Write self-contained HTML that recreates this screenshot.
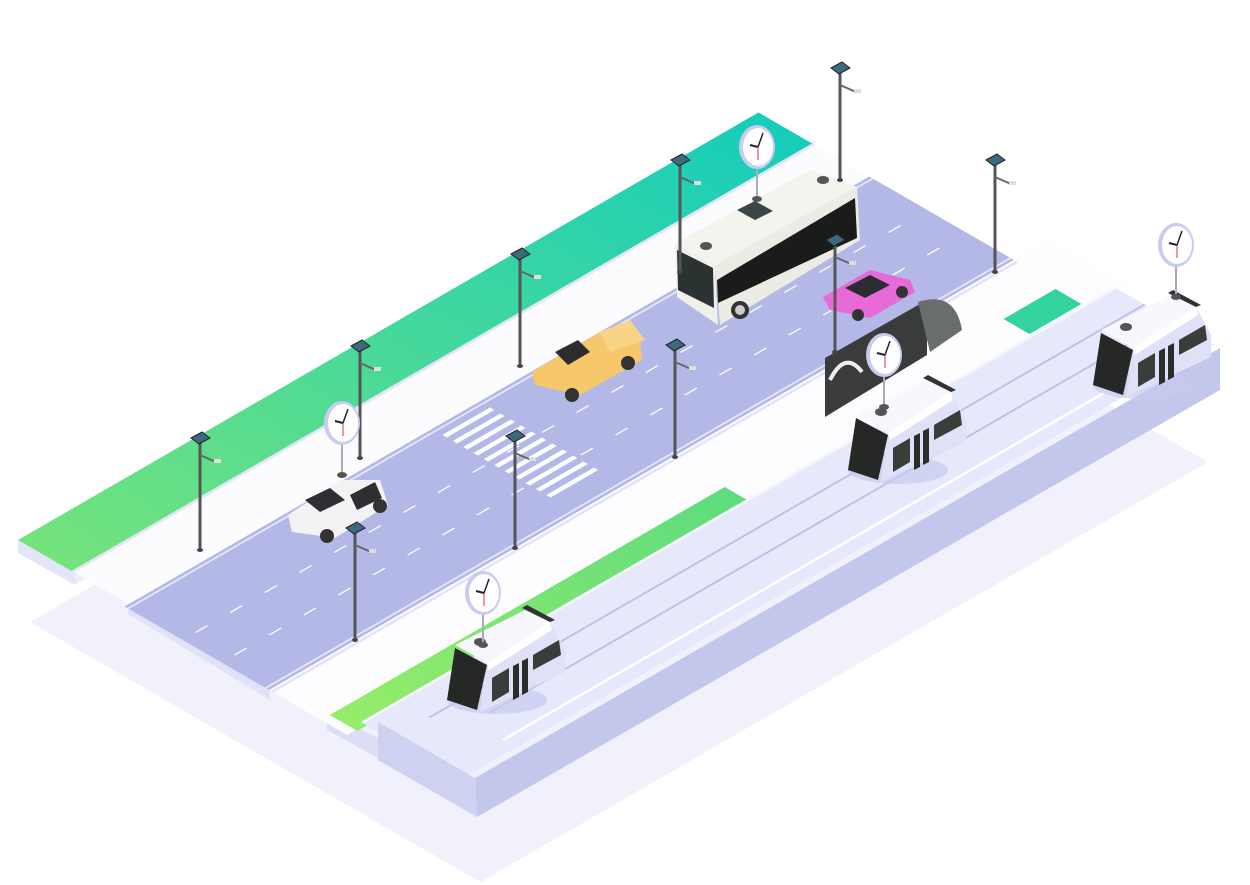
<!DOCTYPE html>
<html><head><meta charset="utf-8"><style>
html,body{margin:0;padding:0;background:#fff;}
svg{display:block;}
</style></head><body>
<svg width="1250" height="885" viewBox="0 0 1250 885" xmlns="http://www.w3.org/2000/svg">
<defs>
<linearGradient id="gTop" x1="0" y1="0" x2="1" y2="0"><stop offset="0" stop-color="#74e37c"/><stop offset="1" stop-color="#16cdbb"/></linearGradient>
<linearGradient id="gLow" x1="0" y1="0" x2="1" y2="0"><stop offset="0" stop-color="#96ec6a"/><stop offset="1" stop-color="#5ddc7e"/></linearGradient>
<g id="lamp">
  <line x1="0" y1="0" x2="0" y2="-110" stroke="#555" stroke-width="3"/>
  <line x1="0" y1="-95" x2="16" y2="-88" stroke="#666" stroke-width="2"/>
  <rect x="14" y="-91" width="7" height="4" fill="#ddd"/>
  <polygon points="-9,-112 2,-118 10,-112 -1,-106" fill="#3d6a7a" stroke="#223" stroke-width="1"/>
  <ellipse cx="0" cy="0" rx="3" ry="2" fill="#444"/>
</g>
<g id="clock">
  <line x1="0" y1="18" x2="0" y2="50" stroke="#aab" stroke-width="2"/>
  <ellipse cx="0" cy="0" rx="18" ry="22" fill="#c9cbef"/>
  <ellipse cx="1" cy="0" rx="15" ry="19" fill="#fff"/>
  <line x1="1" y1="0" x2="6" y2="-14" stroke="#223" stroke-width="1.5"/>
  <line x1="1" y1="0" x2="-7" y2="-2" stroke="#223" stroke-width="2"/>
  <line x1="1" y1="0" x2="1" y2="13" stroke="#d33" stroke-width="1"/>
  <ellipse cx="0" cy="52" rx="5" ry="3" fill="#555"/>
</g>
<g id="tram">
  <ellipse cx="50" cy="0" rx="50" ry="14" fill="#c8cbee" opacity="0.7"/>
  <polygon points="40,-37 103,-78 118,-50 118,-28 33,12" fill="#dfe1f7"/>
  <polygon points="8,-55 78,-90 103,-78 40,-37" fill="#f7f7fd"/>
  <polygon points="40,-37 103,-78 105,-70 42,-30" fill="#fff"/>
  <polygon points="8,-52 40,-35 30,10 0,0" fill="#262826"/>
  <polygon points="45,-22 62,-32 62,-8 45,2" fill="#3b3d3b"/>
  <polygon points="66,-34 72,-37 72,-3 66,0" fill="#2b2d2b"/>
  <polygon points="75,-39 81,-42 81,-8 75,-5" fill="#2b2d2b"/>
  <polygon points="86,-45 112,-60 114,-45 86,-30" fill="#3b3d3b"/>
  <ellipse cx="33" cy="-58" rx="6" ry="4" fill="#555"/>
  <polygon points="75,-92 80,-95 108,-80 103,-78" fill="#333"/>
</g>
</defs>

<!-- floor shadow -->
<g transform="matrix(0.866,-0.5,0.866,0.5,18,540)">
  <rect x="-75" y="89" width="840" height="520" fill="#f1f1fb"/>
</g>
<!-- side faces -->
<polygon points="18,540 75,572 75,585 18,553" fill="#e4e5f8"/>
<polygon points="75,572 815,140 815,150 75,585" fill="#eceefa"/>
<polygon points="128,602 270,688 270,700 128,614" fill="#e0e2f7"/>
<polygon points="327,712 378,738 378,758 327,730" fill="#dcdef5"/>

<g transform="matrix(0.866,-0.5,0.866,0.5,18,540)">
  <!-- green top strip -->
  <rect x="0" y="0" width="855" height="62" fill="url(#gTop)"/>
  <!-- sidewalk -->
  <rect x="0" y="62" width="855" height="66" fill="#fcfcff"/>
  <rect x="0" y="62" width="855" height="3" fill="#e3e4f8"/>
  <!-- road -->
  <rect x="-5" y="128" width="860" height="167" fill="#b3b8e6"/>
  <rect x="-5" y="131" width="860" height="2" fill="#e8e9fa"/>
  <rect x="-5" y="290" width="860" height="2" fill="#e8e9fa"/>
  <line x1="10" y1="195" x2="850" y2="195" stroke="#fff" stroke-width="1.5" stroke-dasharray="14 26"/>
  <line x1="10" y1="240" x2="850" y2="240" stroke="#fff" stroke-width="1.5" stroke-dasharray="14 26"/>
  <!-- crosswalk -->
  <g fill="#fff">
    <rect x="350" y="140" width="55" height="5"/><rect x="350" y="152" width="55" height="5"/>
    <rect x="350" y="164" width="55" height="5"/><rect x="350" y="176" width="55" height="5"/>
    <rect x="350" y="188" width="55" height="5"/><rect x="350" y="200" width="55" height="5"/>
    <rect x="350" y="212" width="55" height="5"/><rect x="350" y="224" width="55" height="5"/>
    <rect x="350" y="236" width="55" height="5"/><rect x="350" y="248" width="55" height="5"/>
    <rect x="350" y="260" width="55" height="5"/>
  </g>
  <!-- right sidewalk -->
  <rect x="-5" y="295" width="900" height="90" fill="#fdfdff"/>
  <rect x="-5" y="297" width="860" height="3" fill="#e3e4f8"/>
  <!-- lower green -->
  <rect x="5" y="355" width="456" height="32" fill="url(#gLow)"/>
  <!-- small green patch -->
  <rect x="790" y="348" width="60" height="30" fill="#33d39f"/>
  <!-- platform top -->
  <rect x="16" y="380" width="870" height="115" fill="#e6e8fb"/>
  <rect x="16" y="380" width="870" height="3" fill="#f7f7fe"/>
  <line x1="60" y1="415" x2="886" y2="415" stroke="#b9bde8" stroke-width="2"/>
  <line x1="100" y1="445" x2="886" y2="445" stroke="#b9bde8" stroke-width="2"/>
  <line x1="80" y1="480" x2="886" y2="480" stroke="#fff" stroke-width="3"/>
</g>
<!-- platform side faces -->
<polygon points="378,722 475,778 477,817 378,760" fill="#cfd1f0"/>
<polygon points="475,778 1220,348 1220,390 477,817" fill="#c4c7ec"/>

<!-- tunnel -->
<polygon points="825,358 927,300 927,355 825,417" fill="#3a3c3c"/>
<path d="M918,302 Q955,290 962,330 L930,352 Z" fill="#6a6d6e"/>
<path d="M830,380 Q845,350 862,372" fill="none" stroke="#eee" stroke-width="4"/>

<!-- bus -->
<polygon points="675,243 810,170 857,187 715,265" fill="#f4f4ee"/>
<polygon points="715,265 857,187 860,240 720,325" fill="#ecece4"/>
<polygon points="717,280 855,198 857,238 718,303" fill="#1a1c1c"/>
<polygon points="675,243 715,265 718,325 677,297" fill="#f0f0ea"/>
<polygon points="677,250 713,268 714,308 678,290" fill="#2a3232"/>
<polygon points="737,210 755,201 773,211 755,220" fill="#3a4545"/>
<circle cx="740" cy="310" r="9" fill="#333"/><circle cx="740" cy="310" r="5" fill="#ccc"/>
<ellipse cx="706" cy="246" rx="6" ry="4" fill="#555"/><ellipse cx="823" cy="180" rx="6" ry="4" fill="#555"/>

<!-- pink car -->
<polygon points="823,297 870,270 910,280 915,292 870,318 830,310" fill="#e76ad8"/>
<polygon points="845,288 870,275 890,285 865,298" fill="#2b2d33"/>
<circle cx="858" cy="315" r="6" fill="#333"/><circle cx="902" cy="292" r="6" fill="#333"/>

<!-- yellow pickup -->
<polygon points="532,372 600,332 640,340 642,360 580,395 535,385" fill="#f6c86b"/>
<polygon points="555,352 578,340 590,352 568,365" fill="#2d2d2d"/>
<polygon points="600,332 630,320 645,340 610,352" fill="#f8d487"/>
<circle cx="572" cy="395" r="7" fill="#333"/><circle cx="628" cy="363" r="7" fill="#333"/>

<!-- white SUV -->
<polygon points="288,515 340,480 380,480 388,505 335,538 292,532" fill="#f3f3f3"/>
<polygon points="305,500 330,488 345,500 320,512" fill="#2d2f33"/>
<polygon points="350,495 375,482 382,498 357,510" fill="#2d2f33"/>
<circle cx="327" cy="536" r="7" fill="#333"/><circle cx="380" cy="506" r="7" fill="#333"/>

<!-- lamps -->
<use href="#lamp" x="200" y="550"/><use href="#lamp" x="360" y="458"/><use href="#lamp" x="520" y="366"/>
<use href="#lamp" x="680" y="272"/><use href="#lamp" x="840" y="180"/><use href="#lamp" x="995" y="272"/>
<use href="#lamp" x="835" y="352"/><use href="#lamp" x="675" y="457"/><use href="#lamp" x="515" y="548"/>
<use href="#lamp" x="355" y="640"/>

<!-- trams -->
<use href="#tram" x="447" y="700"/>
<use href="#tram" x="848" y="470"/>
<use href="#tram" x="1093" y="385"/>

<!-- clocks -->
<use href="#clock" x="342" y="423"/>
<use href="#clock" x="757" y="147"/>
<use href="#clock" x="483" y="593"/>
<use href="#clock" x="884" y="355"/>
<use href="#clock" x="1176" y="245"/>
</svg>
</body></html>
